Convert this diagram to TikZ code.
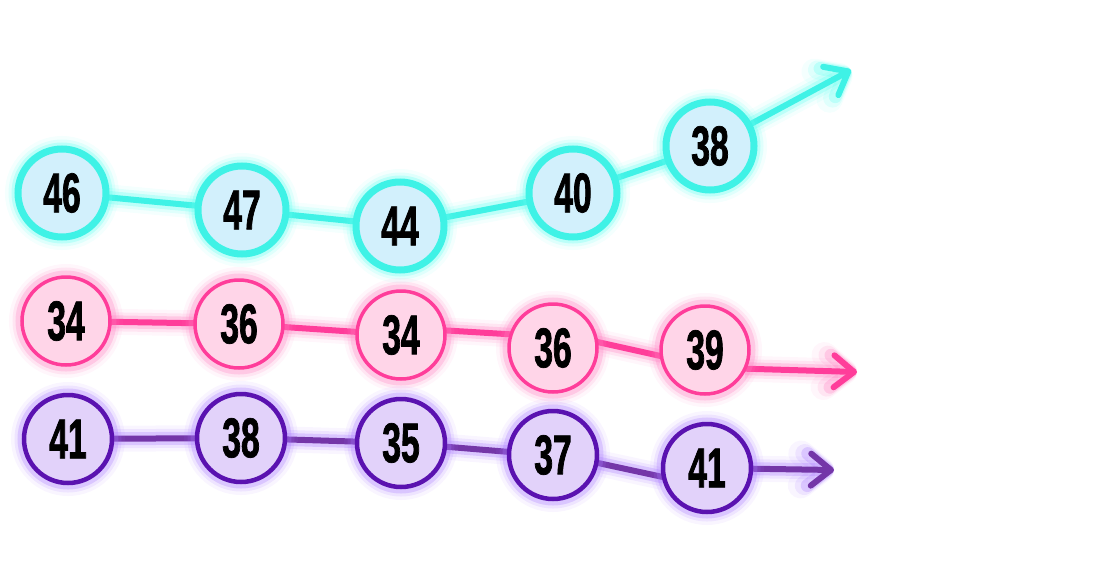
\documentclass[tikz,border=0pt]{standalone}
\usepackage{fontspec}
\newfontfamily\numfont[FakeStretch=0.6, BoldFeatures={FakeBold=1.3}]{Liberation Sans}
\usetikzlibrary{arrows.meta}
\definecolor{cyS}{HTML}{3FF2E6}
\definecolor{cyF}{HTML}{D2F0FC}
\definecolor{cyG}{HTML}{5FFFF0}
\definecolor{pkS}{HTML}{FF3D9A}
\definecolor{pkF}{HTML}{FFD5E8}
\definecolor{pkG}{HTML}{FF7CC0}
\definecolor{puS}{HTML}{5A12B0}
\definecolor{puF}{HTML}{E2D2FA}
\definecolor{puL}{HTML}{7436A8}
\definecolor{puG}{HTML}{A878FF}
\tikzset{
  glow/.style={preaction={draw=#1,line width=26pt,opacity=0.07},
               preaction={draw=#1,line width=19pt,opacity=0.14},
               preaction={draw=#1,line width=13pt,opacity=0.28}},
  numnode/.style={circle, minimum size=88pt, inner sep=0pt,
    font=\numfont\bfseries\fontsize{56}{56}\selectfont, text=black},
  cynode/.style={numnode, draw=cyS, line width=7pt, fill=cyF, glow=cyG},
  pknode/.style={numnode, draw=pkS, line width=3.5pt, fill=pkF, glow=pkG},
  punode/.style={numnode, draw=puS, line width=4.5pt, fill=puF, glow=puG},
  cyline/.style={draw=cyS, line width=6pt, glow=cyG},
  pkline/.style={draw=pkS, line width=6pt, glow=pkG},
  puline/.style={draw=puL, line width=6pt, glow=puG},
  barb/.style={-{Straight Barb[length=20pt,width=32pt,round]}, line cap=round}
}
\begin{document}
\begin{tikzpicture}[x=1pt,y=-1pt]
\useasboundingbox (0,0) rectangle (1100,584);
% node centres
\coordinate (c1) at (62,193);
\coordinate (c2) at (242,210);
\coordinate (c3) at (400,226);
\coordinate (c4) at (573,193);
\coordinate (c5) at (710,146);
\coordinate (cend) at (851,70);
\coordinate (p1) at (66,321);
\coordinate (p2) at (239,324);
\coordinate (p3) at (401,335);
\coordinate (p4) at (553,348);
\coordinate (p5) at (705,350);
\coordinate (pend) at (857,372);
\coordinate (q1) at (68,439);
\coordinate (q2) at (241,438);
\coordinate (q3) at (401,443);
\coordinate (q4) at (553,455);
\coordinate (q5) at (707,468);
\coordinate (qend) at (834,470);
% invisible anchors for connectors
\node[numnode] (m1) at (p1) {};
\node[numnode] (m2) at (p2) {};
\node[numnode] (m3) at (p3) {};
\node[numnode] (m4) at (p4) {};
\node[numnode] (m5) at (p5) {};
\node[numnode] (k1) at (q1) {};
\node[numnode] (k2) at (q2) {};
\node[numnode] (k3) at (q3) {};
\node[numnode] (k4) at (q4) {};
\node[numnode] (k5) at (q5) {};
% connectors
\path[cyline] (c1) -- (c2) -- (c3) -- (c4) -- (c5);
\path[cyline,barb] (c5) -- (cend);
\path[pkline] (m1.center) -- (m2.center) -- (m3.176) -- (m3.6) -- (m4.162) -- (m4.8) -- (m5.188);
\path[pkline,barb] (m5.-25) -- (pend);
\path[puline] (k1.center) -- (k2.center) -- (k3.center) -- (k4.176) -- (k4.-10) -- (k5.192);
\path[puline,barb] (k5.center) -- (qend);
% visible nodes
\node[cynode] (n1) at (c1) {46};
\node[cynode] (n2) at (c2) {47};
\node[cynode] (n3) at (c3) {44};
\node[cynode] (n4) at (c4) {40};
\node[cynode] (n5) at (c5) {38};
\node[pknode] at (m1) {34};
\node[pknode] at (m2) {36};
\node[pknode] at (m3) {34};
\node[pknode] at (m4) {36};
\node[pknode] at (m5) {39};
\node[punode] at (k1) {41};
\node[punode] at (k2) {38};
\node[punode] at (k3) {35};
\node[punode] at (k4) {37};
\node[punode] at (k5) {41};
\end{tikzpicture}
\end{document}
